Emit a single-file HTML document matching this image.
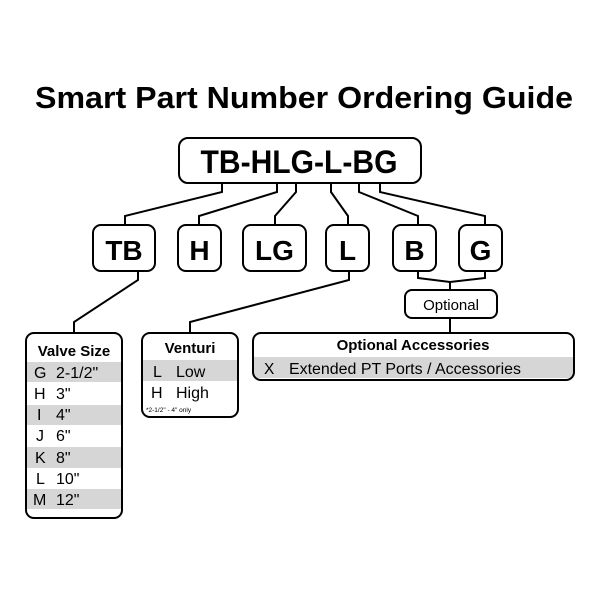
<!DOCTYPE html>
<html><head><style>
html,body{margin:0;padding:0;background:#fff;}
svg{display:block;}
text{font-family:"Liberation Sans",sans-serif;fill:#000;}
</style></head><body>
<svg width="600" height="600" viewBox="0 0 600 600" xmlns="http://www.w3.org/2000/svg">
<text x="304" y="108" font-size="31" font-weight="bold" text-anchor="middle" textLength="538" lengthAdjust="spacingAndGlyphs">Smart Part Number Ordering Guide</text>
<g fill="none" stroke="#000" stroke-width="2">
<rect x="179" y="138" width="242" height="45" rx="9"/>
<rect x="93" y="225" width="62" height="46" rx="8"/>
<rect x="178" y="225" width="43" height="46" rx="8"/>
<rect x="243" y="225" width="63" height="46" rx="8"/>
<rect x="326" y="225" width="43" height="46" rx="8"/>
<rect x="393" y="225" width="43" height="46" rx="8"/>
<rect x="459" y="225" width="43" height="46" rx="8"/>
<rect x="405" y="290" width="92" height="28" rx="7"/>
<polyline points="222,183 222,192 125,216 125,225"/>
<polyline points="277,183 277,192 199,216 199,225"/>
<polyline points="296,183 296,192 275,216 275,225"/>
<polyline points="331,183 331,192 348,216 348,225"/>
<polyline points="359,183 359,192 418,216 418,225"/>
<polyline points="380,183 380,192 485,216 485,225"/>
<polyline points="138,271 138,280 74,322 74,333"/>
<polyline points="349,271 349,280 190,322 190,333"/>
<polyline points="418,271 418,278 450,282 485,278 485,271"/>
<line x1="450" y1="282" x2="450" y2="290"/>
<line x1="450" y1="318" x2="450" y2="333"/>
</g>
<g font-weight="bold" text-anchor="middle">
<text x="299" y="173" font-size="32" textLength="197" lengthAdjust="spacingAndGlyphs">TB-HLG-L-BG</text>
<text x="124" y="260" font-size="28">TB</text>
<text x="199.5" y="260" font-size="28">H</text>
<text x="274.5" y="260" font-size="28">LG</text>
<text x="347.5" y="260" font-size="28">L</text>
<text x="414.5" y="260" font-size="28">B</text>
<text x="480.5" y="260" font-size="28">G</text>
</g>
<text x="451" y="310" font-size="15" text-anchor="middle">Optional</text>
<g fill="#d6d6d6">
<rect x="27" y="362" width="94" height="20"/>
<rect x="27" y="405" width="94" height="20"/>
<rect x="27" y="447" width="94" height="21"/>
<rect x="27" y="489" width="94" height="20"/>
<rect x="143" y="360" width="94" height="21"/>
<rect x="254" y="357" width="319" height="21"/>
</g>
<g fill="none" stroke="#000" stroke-width="2">
<rect x="26" y="333" width="96" height="185" rx="8"/>
<rect x="142" y="333" width="96" height="84" rx="8"/>
<rect x="253" y="333" width="321" height="47" rx="8"/>
</g>
<text x="74" y="356" font-size="15" font-weight="bold" text-anchor="middle">Valve Size</text>
<g font-size="16">
<text x="34" y="378">G</text><text x="56" y="378">2-1/2"</text>
<text x="34" y="399">H</text><text x="56" y="399">3"</text>
<text x="37" y="420">I</text><text x="56" y="420">4"</text>
<text x="36" y="441">J</text><text x="56" y="441">6"</text>
<text x="35" y="463">K</text><text x="56" y="463">8"</text>
<text x="36" y="484">L</text><text x="56" y="484">10"</text>
<text x="33" y="505">M</text><text x="56" y="505">12"</text>
</g>
<text x="190" y="353" font-size="15" font-weight="bold" text-anchor="middle">Venturi</text>
<g font-size="16">
<text x="153" y="377">L</text><text x="176" y="377">Low</text>
<text x="151" y="398">H</text><text x="176" y="398">High</text>
</g>
<text x="146" y="412" font-size="6.5">*2-1/2" - 4" only</text>
<text x="413" y="350" font-size="15" font-weight="bold" text-anchor="middle">Optional Accessories</text>
<g font-size="15.5">
<text x="264" y="374">X</text><text x="289" y="374" textLength="232" lengthAdjust="spacingAndGlyphs">Extended PT Ports / Accessories</text>
</g>
</svg>
</body></html>
